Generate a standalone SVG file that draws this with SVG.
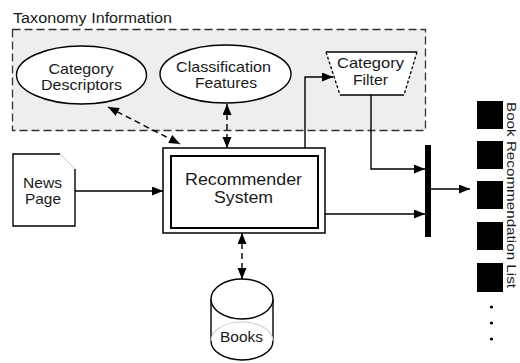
<svg xmlns="http://www.w3.org/2000/svg" width="520" height="363" viewBox="0 0 520 363">
<defs>
<marker id="ah" markerUnits="userSpaceOnUse" markerWidth="12" markerHeight="10" refX="11" refY="4.5" orient="auto-start-reverse"><path d="M0,0 L11,4.5 L0,9 z" fill="#000"/></marker>
</defs>
<style>
text{font-family:'Liberation Sans',Arial,Helvetica,sans-serif;fill:#1a1a1a}
.lbl{font-size:15px;text-anchor:middle}
.ln{fill:none;stroke:#000;stroke-width:1.4}
.dash{stroke-dasharray:6,4}
.shape{fill:#fff;stroke:#000;stroke-width:1.4}
</style>
<rect width="520" height="363" fill="#fff"/>

<g id="taxonomy-information">
<rect x="12.5" y="29.5" width="413" height="101" fill="#eeeeee" stroke="#333" stroke-width="1.3" stroke-dasharray="8,4"/>
<text x="13" y="23" font-size="14" textLength="159" lengthAdjust="spacingAndGlyphs">Taxonomy Information</text>
</g>

<g id="category-descriptors">
<ellipse class="shape" cx="81.5" cy="75" rx="65" ry="29"/>
<text class="lbl" x="81" y="74" textLength="65" lengthAdjust="spacingAndGlyphs">Category</text>
<text class="lbl" x="81.5" y="90" textLength="81" lengthAdjust="spacingAndGlyphs">Descriptors</text>
</g>

<g id="classification-features">
<ellipse class="shape" cx="225.5" cy="74" rx="65.5" ry="29"/>
<text class="lbl" x="223.5" y="72" textLength="95" lengthAdjust="spacingAndGlyphs">Classification</text>
<text class="lbl" x="226" y="88" textLength="62" lengthAdjust="spacingAndGlyphs">Features</text>
</g>

<g id="category-filter">
<polygon points="326,52 417,52 404,95 340,95" fill="#fff"/>
<path d="M326,52 H417 M340,95 H404" class="ln"/>
<path d="M326,52 L340,95 M417,52 L404,95" fill="none" stroke="#000" stroke-width="1.3" stroke-dasharray="3,2"/>
<text class="lbl" x="370.5" y="68" textLength="67" lengthAdjust="spacingAndGlyphs">Category</text>
<text class="lbl" x="370.5" y="85" textLength="35" lengthAdjust="spacingAndGlyphs">Filter</text>
</g>

<g id="news-page">
<path d="M60,154 H13 V226 H75 V169" fill="#fff" stroke="#000" stroke-width="1.4"/>
<path d="M60,154 L75,169" fill="none" stroke="#c8c8c8" stroke-width="1"/>
<text class="lbl" x="42.5" y="188" textLength="39" lengthAdjust="spacingAndGlyphs">News</text>
<text class="lbl" x="43" y="204" textLength="36" lengthAdjust="spacingAndGlyphs">Page</text>
</g>

<g id="recommender-system">
<rect x="163" y="148" width="162" height="85" fill="#fff" stroke="#000" stroke-width="1.5"/>
<rect x="171" y="156" width="147" height="72" fill="#fff" stroke="#000" stroke-width="2"/>
<text class="lbl" x="243.5" y="185" style="font-size:16px" textLength="117" lengthAdjust="spacingAndGlyphs">Recommender</text>
<text class="lbl" x="243.5" y="203" style="font-size:16px" textLength="59" lengthAdjust="spacingAndGlyphs">System</text>
</g>

<g id="books">
<path d="M211,299 V341 A31,19 0 0 0 273,341 V299" fill="#fff" stroke="#000" stroke-width="1.4"/>
<path d="M211,341 A31,19 0 0 1 273,341" fill="none" stroke="#cfcfcf" stroke-width="1.2"/>
<ellipse class="shape" cx="242" cy="299" rx="31" ry="20"/>
<text class="lbl" x="241.5" y="342" textLength="43" lengthAdjust="spacingAndGlyphs">Books</text>
</g>

<g id="merge-bar">
<rect x="425" y="145" width="6" height="92" fill="#000"/>
</g>

<g id="book-recommendation-list">
<rect x="477" y="101" width="26" height="28" fill="#000"/>
<rect x="477" y="141" width="26" height="28" fill="#000"/>
<rect x="477" y="181" width="26" height="28" fill="#000"/>
<rect x="477" y="222" width="26" height="28" fill="#000"/>
<rect x="477" y="263" width="26" height="29" fill="#000"/>
<circle cx="491.5" cy="307" r="1.6" fill="#000"/>
<circle cx="491.5" cy="323" r="1.6" fill="#000"/>
<circle cx="491.5" cy="339" r="1.6" fill="#000"/>
<text transform="translate(507,102) rotate(90)" font-size="13" textLength="186" lengthAdjust="spacingAndGlyphs">Book Recommendation List</text>
</g>

<g id="connectors">
<path class="ln" d="M75,191 H163" marker-end="url(#ah)"/>
<path class="ln dash" d="M108,107 L180,144" marker-start="url(#ah)" marker-end="url(#ah)"/>
<path class="ln dash" d="M227,104 V148" marker-start="url(#ah)" marker-end="url(#ah)"/>
<path class="ln dash" d="M242,233 V279" marker-start="url(#ah)" marker-end="url(#ah)"/>
<path class="ln" d="M305,148 V77 H333" marker-end="url(#ah)"/>
<path class="ln" d="M371,95 V169 H425" marker-end="url(#ah)"/>
<path class="ln" d="M325,214 H425" marker-end="url(#ah)"/>
<path class="ln" d="M431,189 H470" marker-end="url(#ah)"/>
</g>
</svg>
